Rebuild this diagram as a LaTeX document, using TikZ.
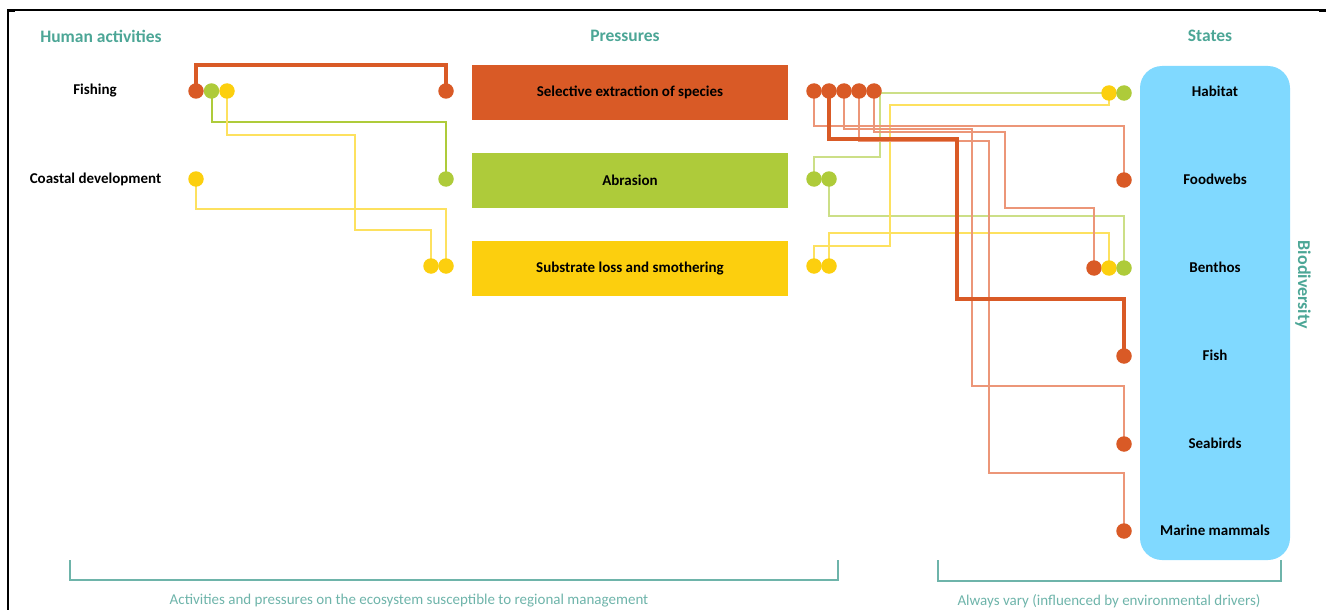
\documentclass[tikz,border=0pt]{standalone}
\usepackage{fontspec}
\setmainfont{Carlito}
\usetikzlibrary{backgrounds}
\definecolor{cOr}{RGB}{217,90,38}
\definecolor{cGr}{RGB}{174,203,58}
\definecolor{cYe}{RGB}{252,207,14}
\definecolor{cBl}{RGB}{128,217,255}
\definecolor{cTeal}{RGB}{76,166,150}
\definecolor{cTealL}{RGB}{110,180,170}
\definecolor{cOrL}{RGB}{236,150,120}
\definecolor{cGrL}{RGB}{204,223,135}
\definecolor{cYeL}{RGB}{253,225,95}
\begin{document}
\begin{tikzpicture}[x=1pt,y=-1pt,
  dot/.style={circle,inner sep=0pt,minimum size=15.5pt,draw=none},
  od/.style={dot,fill=cOr}, gd/.style={dot,fill=cGr}, yd/.style={dot,fill=cYe},
  hdr/.style={font=\bfseries\fontsize{17.5}{20}\selectfont,text=cTeal},
  lbl/.style={font=\bfseries\fontsize{15}{18}\selectfont,text=black},
  pbox/.style={minimum width=316pt,minimum height=55pt,inner sep=0pt,draw=none,font=\bfseries\fontsize{15}{18}\selectfont},
  btxt/.style={font=\fontsize{15}{18}\selectfont,text=cTealL},
  bracket/.style={draw=cTealL,line width=1.4pt},
  thickO/.style={draw=cOr,line width=4pt},
  thinO/.style={draw=cOrL,line width=1.6pt},
  thinG/.style={draw=cGrL,line width=1.6pt},
  solG/.style={draw=cGr,line width=2pt},
  thinY/.style={draw=cYeL,line width=1.6pt},
  frame/.style={draw=black,line width=1.5pt}]
\useasboundingbox (0,0) rectangle (1326,610);
% frame
\draw[frame] (8,610) -- (8,10) -- (1326,10);
\draw[black,line width=3pt] (8,11) -- (15,11);
\draw[black,line width=3pt] (1319,11) -- (1326,11);
% headers
\node[hdr] (hHA) at (101,36) {Human activities};
\node[hdr] (hP) at (625,36) {Pressures};
\node[hdr] (hS) at (1210,36) {States};
% activities
\node[lbl] (aF) at (95,91) {Fishing};
\node[lbl] (aC) at (95.5,179) {Coastal development};
% pressures
\node[pbox,fill=cOr] (p1) at (630,92.5) {Selective extraction of species};
\node[pbox,fill=cGr] (p2) at (630,180.5) {Abrasion};
\node[pbox,fill=cYe] (p3) at (630,268.5) {Substrate loss and smothering};
% states box
\node[fill=cBl,rounded corners=22pt,minimum width=150pt,minimum height=494pt,inner sep=0pt] (bio) at (1215,313) {};
\node[lbl] (sH) at (1215,91) {Habitat};
\node[lbl] (sF) at (1215,179) {Foodwebs};
\node[lbl] (sB) at (1215,267) {Benthos};
\node[lbl] (sFi) at (1215,355) {Fish};
\node[lbl] (sS) at (1215,443) {Seabirds};
\node[lbl] (sM) at (1215,530) {Marine mammals};
\node[font=\bfseries\fontsize{18}{20}\selectfont,text=cTeal,rotate=-90] (bdv) at (1303,285) {Biodiversity};
% dots: activities
\node[od] (fO) at (196,91) {};
\node[gd] (fG) at (211.5,91) {};
\node[yd] (fY) at (227,91) {};
\node[yd] (cY) at (196,179) {};
% dots: pressure inputs
\node[od] (pO) at (446,91) {};
\node[gd] (pG) at (446,179) {};
\node[yd] (pY1) at (431,266) {};
\node[yd] (pY2) at (446,266) {};
% dots: pressure outputs
\node[od] (oO1) at (814,91) {};
\node[od] (oO2) at (829,91) {};
\node[od] (oO3) at (844,91) {};
\node[od] (oO4) at (859,91) {};
\node[od] (oO5) at (874,91) {};
\node[gd] (oG1) at (814,179) {};
\node[gd] (oG2) at (829,179) {};
\node[yd] (oY1) at (814,266) {};
\node[yd] (oY2) at (829,266) {};
% dots: states
\node[yd] (hY) at (1109,93) {};
\node[gd] (hG) at (1124,93) {};
\node[od] (fwO) at (1124,180) {};
\node[od] (bO) at (1094,268) {};
\node[yd] (bY) at (1109,268) {};
\node[gd] (bG) at (1124,268) {};
\node[od] (fiO) at (1124,356) {};
\node[od] (sbO) at (1124,444) {};
\node[od] (mmO) at (1124,531) {};
% connectors
\begin{scope}[on background layer]
% left side
\draw[solG] (fG.center) -- (fG.center |- 0,122) -- (pG.center |- 0,122) -- (pG.center);
\draw[thinY] (fY.center) -- (fY.center |- 0,135) -- (355,135) -- (355,230) -- (pY1.center |- 0,230) -- (pY1.center);
\draw[thinY] (cY.center) -- (cY.center |- 0,209) -- (pY2.center |- 0,209) -- (pY2.center);
\draw[thickO] (fO.center) -- (fO.center |- 0,65) -- (pO.center |- 0,65) -- (pO.center);
% right side
\draw[thinG] (oG1.center) -- (oG1.center |- 0,157) -- (880,157) -- (880,93) -- (hG.center |- 0,93) -- (hG.center);
\draw[thinG] (oG2.center) -- (oG2.center |- 0,216) -- (bG.center |- 0,216) -- (bG.center);
\draw[thinY] (oY1.center) -- (oY1.center |- 0,246) -- (890,246) -- (890,105) -- (hY.center |- 0,105) -- (hY.center);
\draw[thinY] (oY2.center) -- (oY2.center |- 0,233) -- (bY.center |- 0,233) -- (bY.center);
\draw[thinO] (oO1.center) -- (oO1.center |- 0,126) -- (fwO.center |- 0,126) -- (fwO.center);
\draw[thinO] (oO3.center) -- (oO3.center |- 0,129) -- (972,129) -- (972,386) -- (sbO.center |- 0,386) -- (sbO.center);
\draw[thinO] (oO5.center) -- (oO5.center |- 0,132) -- (1005,132) -- (1005,208) -- (bO.center |- 0,208) -- (bO.center);
\draw[thinO] (oO4.center) -- (oO4.center |- 0,141) -- (989,141) -- (989,473) -- (mmO.center |- 0,473) -- (mmO.center);
\draw[thickO] (oO2.center) -- (oO2.center |- 0,139) -- (957,139) -- (957,299) -- (fiO.center |- 0,299) -- (fiO.center);
\end{scope}
% bottom brackets
\draw[bracket] (70,560) -- (70,580) -- (838,580) -- (838,560);
\draw[bracket] (938,560) -- (938,581) -- (1281,581) -- (1281,560);
\node[btxt] (t1) at (409,601) {Activities and pressures on the ecosystem susceptible to regional management};
\node[btxt] (t2) at (1109,601) {Always vary (influenced by environmental drivers)};
\end{tikzpicture}
\end{document}
